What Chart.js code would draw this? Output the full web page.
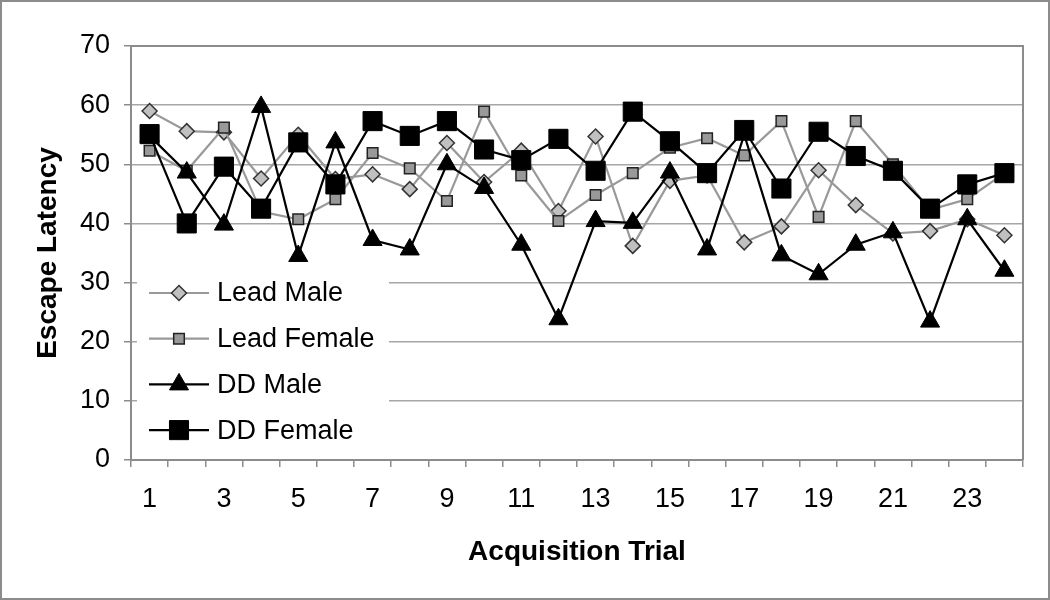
<!DOCTYPE html>
<html>
<head>
<meta charset="utf-8">
<script src="https://cdn.jsdelivr.net/npm/chart.js@4"></script>
<style>
  html, body { margin: 0; padding: 0; background: #fff; }
  #wrap { width: 1050px; height: 600px; }
</style>
</head>
<body>
<div id="wrap"><canvas id="chart"></canvas></div>
<script>
// Trials 1..24 (only odd ones are labelled on the axis)
const trials = ['1', '2', '3', '4', '5', '6', '7', '8', '9', '10', '11', '12',
                '13', '14', '15', '16', '17', '18', '19', '20', '21', '22', '23', '24'];

const leadMale   = [59.0, 55.6, 55.4, 47.6, 55.0, 47.5, 48.3, 45.8, 53.6, 47.0, 52.3, 42.1,
                    54.7, 36.2, 47.2, 48.1, 36.8, 39.5, 49.0, 43.1, 38.3, 38.7, 40.7, 38.0];
const leadFemale = [52.3, 48.9, 56.2, 42.0, 40.7, 44.1, 51.9, 49.3, 43.8, 58.9, 48.1, 40.4,
                    44.8, 48.5, 52.8, 54.4, 51.5, 57.3, 41.1, 57.3, 50.0, 42.3, 44.1, 48.5];
const ddMale     = [54.8, 48.6, 39.8, 59.7, 34.5, 53.7, 37.2, 35.6, 50.0, 46.0, 36.4, 23.8,
                    40.4, 40.1, 48.6, 35.6, 55.0, 34.6, 31.4, 36.4, 38.5, 23.4, 40.7, 32.0];
const ddFemale   = [55.1, 40.0, 49.6, 42.5, 53.7, 46.6, 57.3, 54.8, 57.3, 52.5, 50.7, 54.3,
                    48.9, 58.9, 53.9, 48.5, 55.8, 45.9, 55.5, 51.4, 48.9, 42.5, 46.6, 48.5];

Chart.defaults.font.family = '"Liberation Sans", Arial, sans-serif';
Chart.defaults.color = '#000';

// fond blanc + cadre gris + bord haut/droit de la zone de tracé
const framePlugin = {
    id: 'frame',
    beforeDraw(chart) {
        const ctx = chart.ctx;
        ctx.save();
        ctx.fillStyle = '#fff';
        ctx.fillRect(0, 0, chart.width, chart.height);
        ctx.restore();
    },
    afterDraw(chart) {
        const { ctx, chartArea: a } = chart;
        ctx.save();
        ctx.strokeStyle = '#8c8c8c';
        ctx.lineWidth = 2;
        ctx.beginPath();
        ctx.moveTo(a.left, a.top);
        ctx.lineTo(a.right, a.top);
        ctx.lineTo(a.right, a.bottom);
        ctx.stroke();
        ctx.strokeRect(1, 1, chart.width - 2, chart.height - 2);
        ctx.restore();
    }
};

// légende dans la zone de tracé, en bas à gauche
const boxLegend = {
    id: 'boxLegend',
    afterDatasetsDraw(chart) {
        const { ctx, chartArea: a } = chart;
        const x0 = a.left + 6, y0 = a.top + 222;
        ctx.save();
        ctx.fillStyle = '#fff';
        ctx.fillRect(x0, y0, 252, 188);
        ctx.font = '27px "Liberation Sans", Arial, sans-serif';
        ctx.textBaseline = 'middle';
        chart.data.datasets.forEach((ds, i) => {
            const y = y0 + 25 + i * 45.7;
            ctx.strokeStyle = ds.borderColor;
            ctx.lineWidth = ds.borderWidth;
            ctx.beginPath();
            ctx.moveTo(x0 + 12, y);
            ctx.lineTo(x0 + 72, y);
            ctx.stroke();
            ctx.fillStyle = ds.pointBackgroundColor;
            ctx.strokeStyle = ds.pointBorderColor;
            ctx.lineWidth = ds.pointBorderWidth;
            Chart.helpers.drawPoint(ctx, {
                pointStyle: ds.pointStyle,
                radius: ds.pointRadius,
                borderWidth: ds.pointBorderWidth,
                rotation: 0
            }, x0 + 42, y);
            ctx.fillStyle = '#000';
            ctx.fillText(ds.label, x0 + 80, y + 1);
        });
        ctx.restore();
    }
};

const ctx = document.getElementById('chart').getContext('2d');
new Chart(ctx, {
    type: 'line',
    data: {
        labels: trials,
        datasets: [
            {
                label: 'Lead Male',
                data: leadMale,
                order: 3,
                borderColor: '#999999',
                borderWidth: 2.2,
                pointStyle: 'rectRot',
                pointRadius: 7.5,
                pointBackgroundColor: '#c0c0c0',
                pointBorderColor: '#333333',
                pointBorderWidth: 1.5
            },
            {
                label: 'Lead Female',
                data: leadFemale,
                order: 2,
                borderColor: '#999999',
                borderWidth: 2.2,
                pointStyle: 'rect',
                pointRadius: 7.5,
                pointBackgroundColor: '#999999',
                pointBorderColor: '#222222',
                pointBorderWidth: 1.5
            },
            {
                label: 'DD Male',
                data: ddMale,
                order: 1,
                borderColor: '#000000',
                borderWidth: 2.2,
                pointStyle: 'triangle',
                pointRadius: 11,
                pointBackgroundColor: '#000000',
                pointBorderColor: '#000000',
                pointBorderWidth: 1
            },
            {
                label: 'DD Female',
                data: ddFemale,
                order: 0,
                borderColor: '#000000',
                borderWidth: 2.2,
                pointStyle: 'rect',
                pointRadius: 13.5,
                pointBackgroundColor: '#000000',
                pointBorderColor: '#000000',
                pointBorderWidth: 1
            }
        ]
    },
    options: {
        responsive: true,
        maintainAspectRatio: false,
        animation: false,
        layout: { padding: { top: 46, right: 27, left: 0, bottom: 0 } },
        elements: { line: { tension: 0 } },
        plugins: {
            legend: { display: false },
            tooltip: { enabled: false }
        },
        scales: {
            x: {
                offset: true,
                grid: { offset: true, drawOnChartArea: false, tickLength: 7, color: '#8c8c8c', lineWidth: 1.5 },
                border: { color: '#8c8c8c', width: 2 },
                ticks: {
                    autoSkip: false,
                    maxRotation: 0,
                    padding: 16,
                    font: { size: 27 },
                    callback: function (v, i) {
                        return i % 2 === 0 ? this.getLabelForValue(v) : '';
                    }
                },
                title: {
                    display: true,
                    text: 'Acquisition Trial',
                    font: { size: 28, weight: 'bold' },
                    padding: { top: 0, bottom: 31 }
                },
                afterFit(s) { s.height = 140; }
            },
            y: {
                min: 0,
                max: 70,
                ticks: { stepSize: 10, padding: 14, font: { size: 27 } },
                grid: { color: '#a6a6a6', lineWidth: 1.5, tickLength: 7, tickColor: '#8c8c8c' },
                border: { color: '#8c8c8c', width: 2 },
                title: {
                    display: true,
                    text: 'Escape Latency',
                    font: { size: 28, weight: 'bold' },
                    padding: { top: 31, bottom: 0 }
                },
                afterFit(s) { s.width = 131; }
            }
        }
    },
    plugins: [framePlugin, boxLegend]
});
</script>
</body>
</html>
